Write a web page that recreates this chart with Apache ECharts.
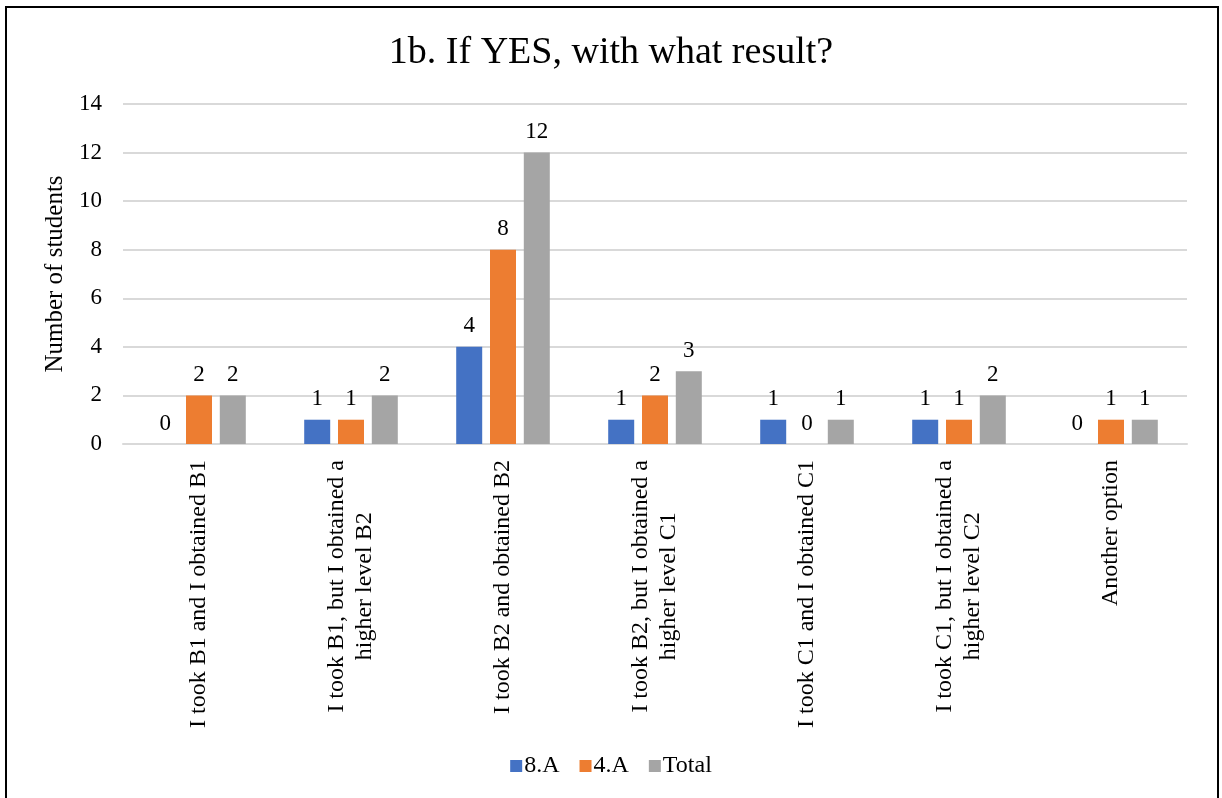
<!DOCTYPE html>
<html>
<head>
<meta charset="utf-8">
<script src="https://cdn.jsdelivr.net/npm/echarts@6/dist/echarts.min.js"></script>
<style>
  html, body { margin: 0; padding: 0; background: #fff; }
  #main { width: 1222px; height: 798px; }
  .frame { position: absolute; left: 5px; top: 6px; width: 1210px; height: 800px;
           border: 2px solid #000; border-bottom: none; pointer-events: none; }
</style>
</head>
<body>
<div id="main"></div>
<div class="frame"></div>
<script>
// 数据
var categories = [
    'I took B1 and I obtained B1',
    'I took B1, but I obtained a\nhigher level B2',
    'I took B2 and obtained B2',
    'I took B2, but I obtained a\nhigher level C1',
    'I took C1 and I obtained C1',
    'I took C1, but I obtained a\nhigher level C2',
    'Another option'
];
var class8A = [0, 1, 4, 1, 1, 1, 0];
var class4A = [2, 1, 8, 2, 0, 1, 1];
var total = [2, 2, 12, 3, 1, 2, 1];
var yTicks = { min: 0, max: 14, interval: 2 };

var font = '"Liberation Serif", "Times New Roman", serif';

var chart = echarts.init(document.getElementById('main'));

function makeSeries(name, data, color) {
    return {
        name: name,
        type: 'bar',
        data: data,
        barWidth: 26,
        barGap: '30%',
        itemStyle: { color: color },
        label: {
            show: true,
            position: 'top',
            distance: 9,
            color: '#000',
            fontFamily: font,
            fontSize: 23
        }
    };
}

var option = {
    animation: false,
    textStyle: { fontFamily: font },
    title: {
        text: '1b. If YES, with what result?',
        left: 'center',
        top: 29,
        textStyle: { fontFamily: font, fontSize: 38, fontWeight: 'normal', color: '#000' }
    },
    legend: {
        bottom: 15,
        left: 'center',
        itemWidth: 12,
        itemHeight: 12,
        itemGap: 20,
        icon: 'rect',
        textStyle: { fontFamily: font, fontSize: 24, color: '#000', padding: [0, 0, 0, -3] },
        data: ['8.A', '4.A', 'Total']
    },
    grid: {
        left: 123,
        right: 35,
        top: 104,
        bottom: 354
    },
    xAxis: {
        type: 'category',
        data: categories,
        axisLine: { show: true, lineStyle: { color: '#d9d9d9', width: 2 } },
        axisTick: { show: false },
        axisLabel: {
            rotate: 90,
            interval: 0,
            margin: 16,
            color: '#000',
            fontFamily: font,
            fontSize: 24,
            lineHeight: 28,
            // 每行居中
            formatter: function (val) {
                return val.split('\n').map(function (s) { return '{c|' + s + '}'; }).join('\n');
            },
            rich: {
                c: { align: 'center', fontFamily: font, fontSize: 24, lineHeight: 28, color: '#000' }
            }
        }
    },
    yAxis: {
        type: 'value',
        min: yTicks.min,
        max: yTicks.max,
        interval: yTicks.interval,
        name: 'Number of students',
        nameLocation: 'middle',
        nameGap: 52,
        nameTextStyle: { fontFamily: font, fontSize: 25, color: '#000' },
        axisLine: { show: false },
        axisTick: { show: false },
        axisLabel: { color: '#000', fontFamily: font, fontSize: 23, margin: 21 },
        splitLine: { lineStyle: { color: '#d9d9d9', width: 2 } }
    },
    series: [
        makeSeries('8.A', class8A, '#4472c4'),
        makeSeries('4.A', class4A, '#ed7d31'),
        makeSeries('Total', total, '#a5a5a5')
    ]
};

chart.setOption(option);
</script>
</body>
</html>
